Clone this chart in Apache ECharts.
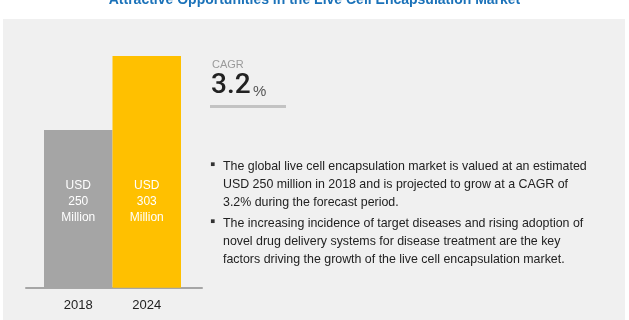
<!DOCTYPE html>
<html>
<head>
<meta charset="utf-8">
<script src="https://cdn.jsdelivr.net/npm/echarts@6/dist/echarts.min.js"></script>
<style>html,body{margin:0;padding:0;background:#fff;}#c{width:629px;height:320px;}</style>
</head>
<body>
<div id="c"></div>
<script>
var titleText = 'Attractive Opportunities in the Live Cell Encapsulation Market';
var years = ['2018', '2024'];
var values = [250, 303];
var barColors = ['#a5a5a5', '#ffc000'];
var barLabels = ['USD\n250\nMillion', 'USD\n303\nMillion'];
var cagrLabel = 'CAGR';
var cagrValue = '3.2';
var bullets = [
  'The global live cell encapsulation market is valued at an estimated\nUSD 250 million in 2018 and is projected to grow at a CAGR of\n3.2% during the forecast period.',
  'The increasing incidence of target diseases and rising adoption of\nnovel drug delivery systems for disease treatment are the key\nfactors driving the growth of the live cell encapsulation market.'
];

var chart = echarts.init(document.getElementById('c'), null, {renderer: 'canvas'});
var FONT = 'Liberation Sans, Arial, sans-serif';
chart.setOption({
  backgroundColor: '#ffffff',
  animation: false,
  title: {
    text: titleText,
    left: 'center',
    top: -12,
    textStyle: {color: '#1b72b9', fontSize: 14, fontWeight: 'bold', fontFamily: FONT}
  },
  grid: [
    {left: 44, width: 137, top: 56, bottom: 32.3},
    {left: 26, width: 176, top: 56, bottom: 32.3}
  ],
  xAxis: [
    {
      type: 'category', gridIndex: 0, data: years,
      axisLine: {show: false}, axisTick: {show: false},
      axisLabel: {color: '#222', fontSize: 13, fontFamily: FONT, margin: 11}
    },
    {
      type: 'value', gridIndex: 1, min: 0, max: 1,
      axisLine: {show: true, lineStyle: {color: '#a6a6a6', width: 2}},
      axisTick: {show: false}, axisLabel: {show: false}, splitLine: {show: false}
    }
  ],
  yAxis: [
    {type: 'value', gridIndex: 0, min: 137, max: 303, show: false},
    {type: 'value', gridIndex: 1, min: 0, max: 1, show: false}
  ],
  graphic: [
    {type: 'rect', z: -10, shape: {x: 3, y: 19, width: 622, height: 301}, style: {fill: '#f0f0f0'}},
    {type: 'text', x: 212, y: 59, style: {text: cagrLabel, fill: '#9a9a9a', font: '11px ' + FONT}},
    {type: 'text', x: 211, y: 72, style: {text: cagrValue, fill: '#222', font: '500 28px Roboto, ' + FONT}},
    {type: 'text', x: 253, y: 84, style: {text: '%', fill: '#555', font: '15px ' + FONT}},
    {type: 'rect', shape: {x: 210, y: 105, width: 76, height: 3}, style: {fill: '#c3c3c3'}},
    {type: 'text', x: 210, y: 157, style: {text: '\u25AA', fill: '#333', font: '15px ' + FONT}},
    {type: 'text', x: 223, y: 157.5, style: {text: bullets[0], fill: '#222', font: '12.4px ' + FONT, lineHeight: 18}},
    {type: 'text', x: 210, y: 214, style: {text: '\u25AA', fill: '#333', font: '15px ' + FONT}},
    {type: 'text', x: 223, y: 214.5, style: {text: bullets[1], fill: '#222', font: '12.4px ' + FONT, lineHeight: 18}}
  ],
  series: [{
    type: 'bar',
    xAxisIndex: 0, yAxisIndex: 0,
    barCategoryGap: '0%',
    data: values.map(function (v, i) {
      return {value: v, itemStyle: {color: barColors[i]}, label: {formatter: barLabels[i]}};
    }),
    label: {
      show: true, position: 'insideBottom', distance: 62,
      color: '#fff', fontSize: 12, lineHeight: 16, fontFamily: FONT
    }
  }]
});
</script>
</body>
</html>
